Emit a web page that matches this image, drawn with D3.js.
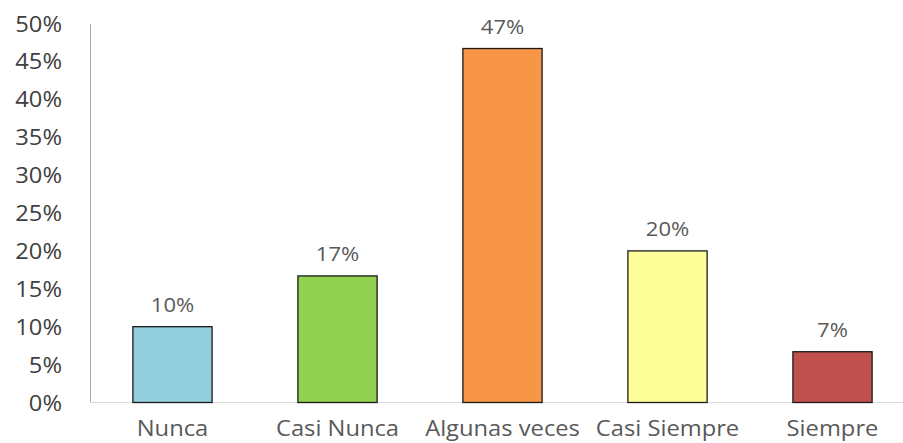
<!DOCTYPE html>
<html><head><meta charset="utf-8">
<script src="https://cdn.jsdelivr.net/npm/d3@7"></script>
<style>body{margin:0;background:#fff}svg{display:block}</style>
</head><body><svg id="c" width="903" height="443"></svg>
<script>
const categories = ["Nunca","Casi Nunca","Algunas veces","Casi Siempre","Siempre"];
const values = [10, 16.7, 46.7, 20, 6.7];
const labels = ["10%","17%","47%","20%","7%"];
const colors = ["#92cddc","#92d050","#f79646","#ffff99","#c0504d"];
const yTicks = [0,5,10,15,20,25,30,35,40,45,50];

const svg = d3.select("#c");
const x = d3.scaleBand().domain(categories).range([90, 915]).paddingInner(0.52).paddingOuter(0.26);
const y = d3.scaleLinear().domain([0,50]).range([402.5, 23.5]);
const font = "'Open Sans', sans-serif";
const sx = 1.13;

// axes
const ya = svg.append("g").attr("transform","translate(90,0)")
  .call(d3.axisLeft(y).tickValues(yTicks).tickFormat(d=>d+"%").tickSize(0).tickPadding(28));
ya.select(".domain").attr("stroke","#a6a6a6");
ya.selectAll("text").attr("font-family",font).attr("font-size",21).attr("fill","#404040")
  .attr("x",-28/sx).attr("dy","0.36em").attr("transform",`scale(${sx},1)`);

const xa = svg.append("g").attr("transform","translate(0,402.5)")
  .call(d3.axisBottom(x).tickSize(0).tickPadding(19));
xa.select(".domain").attr("stroke","#d9d9d9").attr("d","M90,0H903");
xa.selectAll("text").attr("font-family",font).attr("font-size",21).attr("fill","#595959")
  .attr("transform",`scale(${sx},1)`);

svg.append("g").selectAll("rect").data(categories).join("rect")
  .attr("x",d=>x(d)).attr("width",x.bandwidth())
  .attr("y",(d,i)=>y(values[i])).attr("height",(d,i)=>y(0)-y(values[i]))
  .attr("fill",(d,i)=>colors[i]).attr("stroke","#1a1a1a").attr("stroke-width",1.3);

svg.append("g").selectAll("text").data(categories).join("text")
  .attr("transform",(d,i)=>`translate(${x(d)+x.bandwidth()/2},${y(values[i])-15}) scale(${sx},1)`)
  .attr("text-anchor","middle").attr("font-family",font).attr("font-size",19.5).attr("fill","#595959")
  .text((d,i)=>labels[i]);
</script></body></html>
